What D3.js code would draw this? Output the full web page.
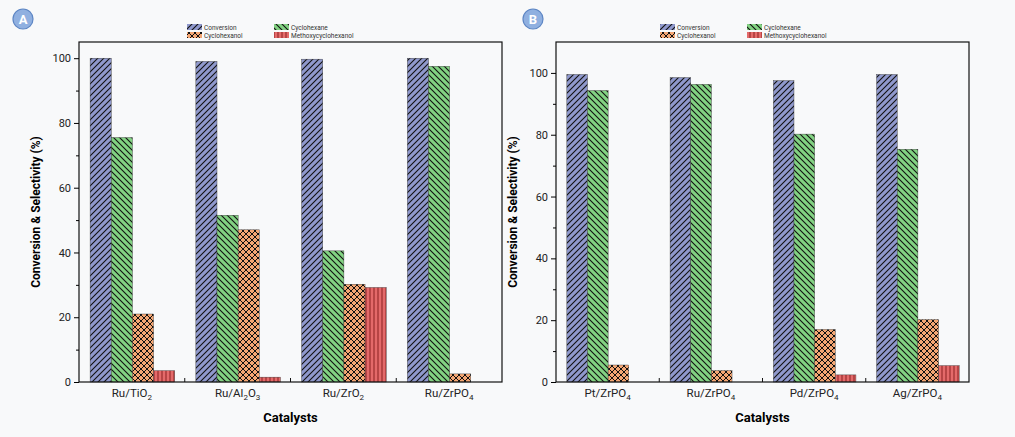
<!DOCTYPE html>
<html><head><meta charset="utf-8">
<script src="https://cdn.jsdelivr.net/npm/d3@7"></script>
<style>body{margin:0;background:#f8f9fa;font-family:Roboto,sans-serif}</style>
</head><body><svg id="c" width="1015" height="437"></svg>
<script>
const seriesNames = ["Conversion","Cyclohexane","Cyclohexanol","Methoxycyclohexanol"];
const catsA = ["Ru/TiO|2","Ru/Al|2|O|3","Ru/ZrO|2","Ru/ZrPO|4"];
const catsB = ["Pt/ZrPO|4","Ru/ZrPO|4","Pd/ZrPO|4","Ag/ZrPO|4"];
const conversionA = [100, 99, 99.7, 100];
const cyclohexaneA = [75.5, 51.5, 40.5, 97.5];
const cyclohexanolA = [21, 47, 30.2, 2.5];
const methoxyA = [3.5, 1.5, 29.2, 0];
const conversionB = [99.5, 98.5, 97.5, 99.5];
const cyclohexaneB = [94.3, 96.3, 80.2, 75.3];
const cyclohexanolB = [5.5, 3.7, 17, 20.2];
const methoxyB = [0, 0, 2.3, 5.3];
const yTicks = [0,20,40,60,80,100];

const svg = d3.select("#c");
const fills = ["#8f98cc","#82d282","#f4a673","#e46a6a"];
const defs = svg.append("defs");
function pat(id, bg, draw){
  const p = defs.append("pattern").attr("id",id).attr("patternUnits","userSpaceOnUse").attr("width",6).attr("height",6);
  p.append("rect").attr("width",6).attr("height",6).attr("fill",bg);
  draw(p);
}
pat("p0",fills[0],p=>p.append("path").attr("d","M-1,1 l2,-2 M0,6 l6,-6 M5,7 l2,-2").attr("stroke","#111").attr("stroke-width",1.1));
pat("p1",fills[1],p=>p.append("path").attr("d","M-1,5 l2,2 M0,0 l6,6 M5,-1 l2,2").attr("stroke","#111").attr("stroke-width",1.1));
pat("p2",fills[2],p=>p.append("path").attr("d","M0,0 l6,6 M6,0 l-6,6").attr("stroke","#111").attr("stroke-width",1));
defs.append("pattern").attr("id","p3").attr("patternUnits","userSpaceOnUse").attr("width",4).attr("height",4)
  .call(p=>{p.append("rect").attr("width",4).attr("height",4).attr("fill",fills[3]);
    p.append("path").attr("d","M2,0 v4").attr("stroke","#8a1f1f").attr("stroke-width",1);});

function sub(g, txt, x, y, size){
  const parts = txt.split("|");
  const t = g.append("text").attr("x",x).attr("y",y).attr("text-anchor","middle").attr("font-size",size).attr("fill","#222");
  parts.forEach((s,i)=>{
    const ts = t.append("tspan").text(s);
    if(i%2===1){ts.attr("font-size",size*0.7).attr("dy",3);} else if(i>0){ts.attr("dy",-3);}
  });
}

function panel(opt){
  const {L,R,T,B,ymax,cats,data,letter,lx,legX} = opt;
  const g = svg.append("g");
  const x = d3.scaleBand().domain(d3.range(4)).range([L,R]);
  const y = d3.scaleLinear().domain([0,ymax]).range([B,T]);
  const bw = x.bandwidth()*0.2, off = x.bandwidth()*0.105;
  data.forEach((vals,s)=>{
    g.selectAll(null).data(vals).join("rect")
      .attr("x",(d,i)=>x(i)+off+s*bw).attr("width",bw)
      .attr("y",d=>y(d)).attr("height",d=>B-y(d))
      .attr("fill",`url(#p${s})`).attr("stroke",d=>d>0?"#333":"none").attr("stroke-width",0.4);
  });
  g.append("rect").attr("x",L).attr("y",T).attr("width",R-L).attr("height",B-T).attr("fill","none").attr("stroke","#111").attr("stroke-width",1.2);
  const ya = g.append("g").attr("transform",`translate(${L},0)`).call(d3.axisLeft(y).tickValues(yTicks).tickSize(5).tickSizeOuter(0));
  ya.select(".domain").remove();
  ya.selectAll("text").attr("font-size",11).attr("font-family","Roboto").attr("fill","#222");
  g.append("g").attr("transform",`translate(${L},0)`).call(d3.axisLeft(y).tickValues(d3.range(10,ymax,20)).tickSize(3).tickFormat("")).select(".domain").remove();
  g.selectAll(null).data(d3.range(1,4)).join("line").attr("x1",i=>x(i)).attr("x2",i=>x(i)).attr("y1",B).attr("y2",B-4).attr("stroke","#111");
  cats.forEach((c,i)=>sub(g,c,x(i)+x.bandwidth()/2,B+15,11.5));
  g.append("text").attr("x",(L+R)/2).attr("y",B+40).attr("text-anchor","middle").attr("font-weight","bold").attr("font-size",13).text("Catalysts");
  g.append("text").attr("transform",`translate(${L-39},${(T+B)/2}) rotate(-90)`).attr("text-anchor","middle").attr("font-weight","bold").attr("font-size",12).text("Conversion & Selectivity (%)");
  g.append("circle").attr("cx",lx).attr("cy",19).attr("r",10).attr("fill","#90b0e0").attr("stroke","#5d86c4").attr("stroke-width",1.2);
  g.append("text").attr("x",lx).attr("y",24).attr("text-anchor","middle").attr("fill","#fff").attr("font-weight","bold").attr("font-size",13).text(letter);
  const pos=[[0,0],[1,0],[0,1],[1,1]];
  [0,1,2,3].forEach(s=>{
    const [c,r]=pos[s];
    const px=legX+c*87, py=24+r*8;
    g.append("rect").attr("x",px).attr("y",py).attr("width",15).attr("height",6).attr("fill",`url(#p${s})`);
    g.append("text").attr("x",px+17).attr("y",py+5.5).attr("font-size",6.5).attr("fill","#333").text(seriesNames[s]);
  });
}
panel({L:79,R:502,T:42,B:382,ymax:105,cats:catsA,letter:"A",lx:23,legX:187,
  data:[conversionA,cyclohexaneA,cyclohexanolA,methoxyA]});
panel({L:556,R:969,T:42,B:382,ymax:110,cats:catsB,letter:"B",lx:533,legX:660,
  data:[conversionB,cyclohexaneB,cyclohexanolB,methoxyB]});
</script></body></html>
